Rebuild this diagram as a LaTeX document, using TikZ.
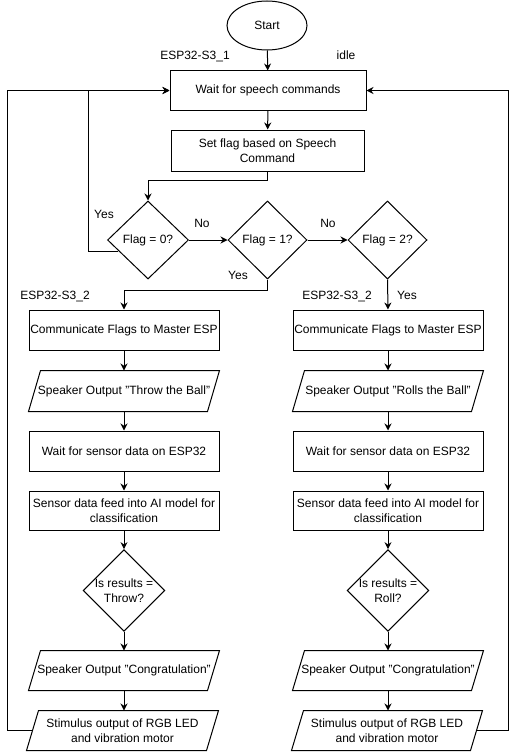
\documentclass[tikz,border=0pt]{standalone}
\usepackage{fontspec}
\setmainfont{Liberation Sans}
\usetikzlibrary{shapes.geometric,arrows.meta,calc}
\newcommand\paradraw[1]{\draw (#1.south west) -- ([xshift=12pt]#1.north west) -- (#1.north east) -- ([xshift=-12pt]#1.south east) -- cycle;}
\begin{document}
\begin{tikzpicture}[x=1pt,y=-1pt,line width=1pt,
  font=\fontsize{12}{14.5}\selectfont,
  box/.style={draw,rectangle,minimum width=190pt,minimum height=40pt,inner sep=0pt,align=center},
  dia/.style={draw,diamond,minimum width=80pt,minimum height=79pt,inner sep=0pt,align=center},
  para/.style={rectangle,minimum width=190pt,minimum height=40pt,inner sep=0pt,align=center},
  lbl/.style={inner sep=0pt,anchor=base},
  arr/.style={-{Stealth[length=7pt,width=7pt]}}]
\fill[white] (0,0) rectangle (517,752);
\useasboundingbox (0,0) rectangle (517,752);

% top part
\node[draw,ellipse,minimum width=80pt,minimum height=49pt,inner sep=0pt] (start) at (267,25.5) {Start};
\node[box,minimum width=196pt,minimum height=39pt] (wait) at (268,90.5) {Wait for speech commands};
\node[box,minimum width=193pt,minimum height=41pt] (setflag) at (267.5,150.5) {Set flag based on Speech\\Command};
\node[dia,minimum width=81pt,minimum height=78pt] (d0) at (148,240) {Flag = 0?};
\node[dia,minimum width=79pt,minimum height=78pt] (d1) at (267.5,240) {Flag = 1?};
\node[dia,minimum width=79pt,minimum height=78pt] (d2) at (387.5,240) {Flag = 2?};

\node[lbl] (esp1) at (195,59.5) {ESP32-S3\_1};
\node[lbl] (idle) at (346,59.5) {idle};
\node[lbl] (yes0) at (104,218.5) {Yes};
\node[lbl] (no1) at (202,227.5) {No};
\node[lbl] (no2) at (328,227.5) {No};
\node[lbl] (yes1) at (238,279.5) {Yes};
\node[lbl] (esp2a) at (55,299.5) {ESP32-S3\_2};
\node[lbl] (esp2b) at (337,299.5) {ESP32-S3\_2};
\node[lbl] (yes2) at (407,299.5) {Yes};

% left column
\node[box] (comm1) at (124,330) {Communicate Flags to Master ESP};
\node[para] (spk1) at (124,391) {Speaker Output "Throw the Ball"};
\node[box] (ws1) at (124,451) {Wait for sensor data on ESP32};
\node[box,minimum height=39pt] (ai1) at (124,510.5) {Sensor data feed into AI model for\\classification};
\node[dia] (r1) at (124,590.5) {Is results =\\Throw?};
\node[para,minimum height=39pt] (cong1) at (124,670.5) {Speaker Output "Congratulation"};
\node[para,minimum height=39pt,minimum width=191pt] (stim1) at (122.5,730.5) {Stimulus output of RGB LED\\and vibration motor};

% right column
\node[box] (comm2) at (388,330) {Communicate Flags to Master ESP};
\node[para] (spk2) at (388,391) {Speaker Output "Rolls the Ball"};
\node[box] (ws2) at (388,451) {Wait for sensor data on ESP32};
\node[box,minimum height=39pt] (ai2) at (388,510.5) {Sensor data feed into AI model for\\classification};
\node[dia] (r2) at (388,590.5) {Is results =\\Roll?};
\node[para,minimum height=39pt] (cong2) at (388,670.5) {Speaker Output "Congratulation"};
\node[para,minimum height=39pt] (stim2) at (387,730.5) {Stimulus output of RGB LED\\and vibration motor};

\paradraw{spk1}
\paradraw{cong1}
\paradraw{stim1}
\paradraw{spk2}
\paradraw{cong2}
\paradraw{stim2}

% connectors
\coordinate (loopL) at (7,90.5);
\coordinate (loopY) at (88,90.5);
\coordinate (loopR) at (508,90.5);
\coordinate (y0) at ($(d0.west)!0.28!(d0.south)$);

\draw[arr] (start) -- (wait);
\draw[arr] (wait) -- (setflag);
\draw[arr] (setflag.south) -- ++(0,9) -| (d0.north);
\draw[arr] (d0.east) -- (d1.west);
\draw[arr] (d1.east) -- (d2.west);
\draw[arr] (y0) -| (loopY) -- (wait.west);
\draw[arr] (d1.south) -- ++(0,11) -| (comm1.north);
\draw[arr] (d2.south) -- (comm2.north);

\draw[arr] (comm1) -- (spk1);
\draw[arr] (spk1) -- (ws1);
\draw[arr] (ws1) -- (ai1);
\draw[arr] (ai1) -- (r1);
\draw[arr] (r1) -- (cong1);
\draw[arr] (cong1.south) -- (cong1.south |- stim1.north);
\draw[arr] ([xshift=6pt]stim1.west) -| (loopL) -- (wait.west);

\draw[arr] (comm2) -- (spk2);
\draw[arr] (spk2) -- (ws2);
\draw[arr] (ws2) -- (ai2);
\draw[arr] (ai2) -- (r2);
\draw[arr] (r2) -- (cong2);
\draw[arr] (cong2.south) -- (cong2.south |- stim2.north);
\draw[arr] ([xshift=-6pt]stim2.east) -| (loopR) -- (wait.east);
\end{tikzpicture}
\end{document}
